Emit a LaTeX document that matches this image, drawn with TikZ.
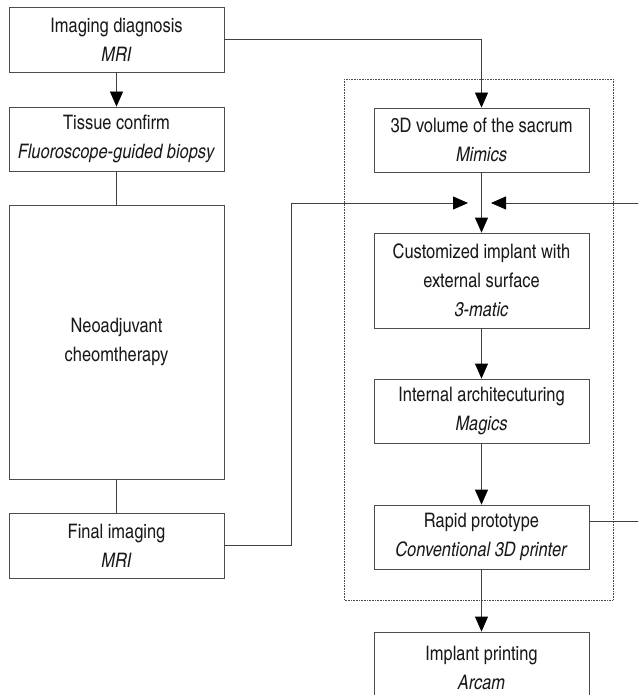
\documentclass[tikz,border=0pt]{standalone}
\usepackage{fontspec}
\setmainfont{texgyreheroscn}[Extension=.otf, UprightFont=*-regular, ItalicFont=*-italic, BoldFont=*-bold, BoldItalicFont=*-bolditalic]
\usetikzlibrary{arrows.meta}
\tikzset{
  stage/.style={draw=black!70, line width=0.8pt, minimum width=215pt, inner sep=0pt,
    align=center, text=black!90, font=\fontsize{20}{29}\selectfont},
  link/.style={draw=black!75, line width=0.8pt},
  tip/.style={-{Triangle[length=15pt,width=13pt,color=black]}}
}
\begin{document}
\begin{tikzpicture}[x=1pt,y=-1pt]
            \useasboundingbox (0,0) rectangle (638,695);
            \clip (0,0) rectangle (638,695);
            % left column
            \node[stage, minimum height=65pt] (diag) at (116.5,39.5) {Imaging diagnosis\\\textit{MRI}};
            \node[stage, minimum height=64pt] (tissue) at (116.5,139) {Tissue confirm\\\textit{Fluoroscope-guided biopsy}};
            \node[stage, minimum height=274pt] (chemo) at (116.5,342) {Neoadjuvant\\cheomtherapy};
            \node[stage, minimum height=65pt] (final) at (116.5,545.5) {Final imaging\\\textit{MRI}};
            % right column
            \draw[black!70, densely dotted, line width=0.6pt] (344,79) rectangle (613,600);
            \node[stage, minimum height=64pt] (volume) at (481.5,140) {3D volume of the sacrum\\\textit{Mimics}};
            \node[stage, minimum height=95pt] (implant) at (481.5,280.5) {Customized implant with\\external surface\\\textit{3-matic}};
            \node[stage, minimum height=64pt] (archi) at (481.5,411) {Internal architecuturing\\\textit{Magics}};
            \node[stage, minimum height=64pt] (proto) at (481.5,537) {Rapid prototype\\\textit{Conventional 3D printer}};
            \node[stage, minimum height=72pt] (print) at (481.5,668) {Implant printing\\\textit{Arcam}};
            \coordinate (l) at (291,203);
            \coordinate (lt) at (468,203);
            \coordinate (r) at (645,203);
            \coordinate (rt) at (491,203);
            % connectors
            \draw[link, tip](diag)--(tissue);
            \draw[link](tissue)--(chemo);
            \draw[link](chemo)--(final);
            \draw[link, tip](diag.east)-|(volume.north);
            \draw[link, tip](final.east)-|(l)--(lt);
            \draw[link, tip]([yshift=16pt]proto.east)-|(r)--(rt);
            \draw[link, tip](volume)--(implant);
            \draw[link, tip](implant)--(archi);
            \draw[link, tip](archi)--(proto);
            \draw[link, tip](proto)--(print);
        \end{tikzpicture}
\end{document}
